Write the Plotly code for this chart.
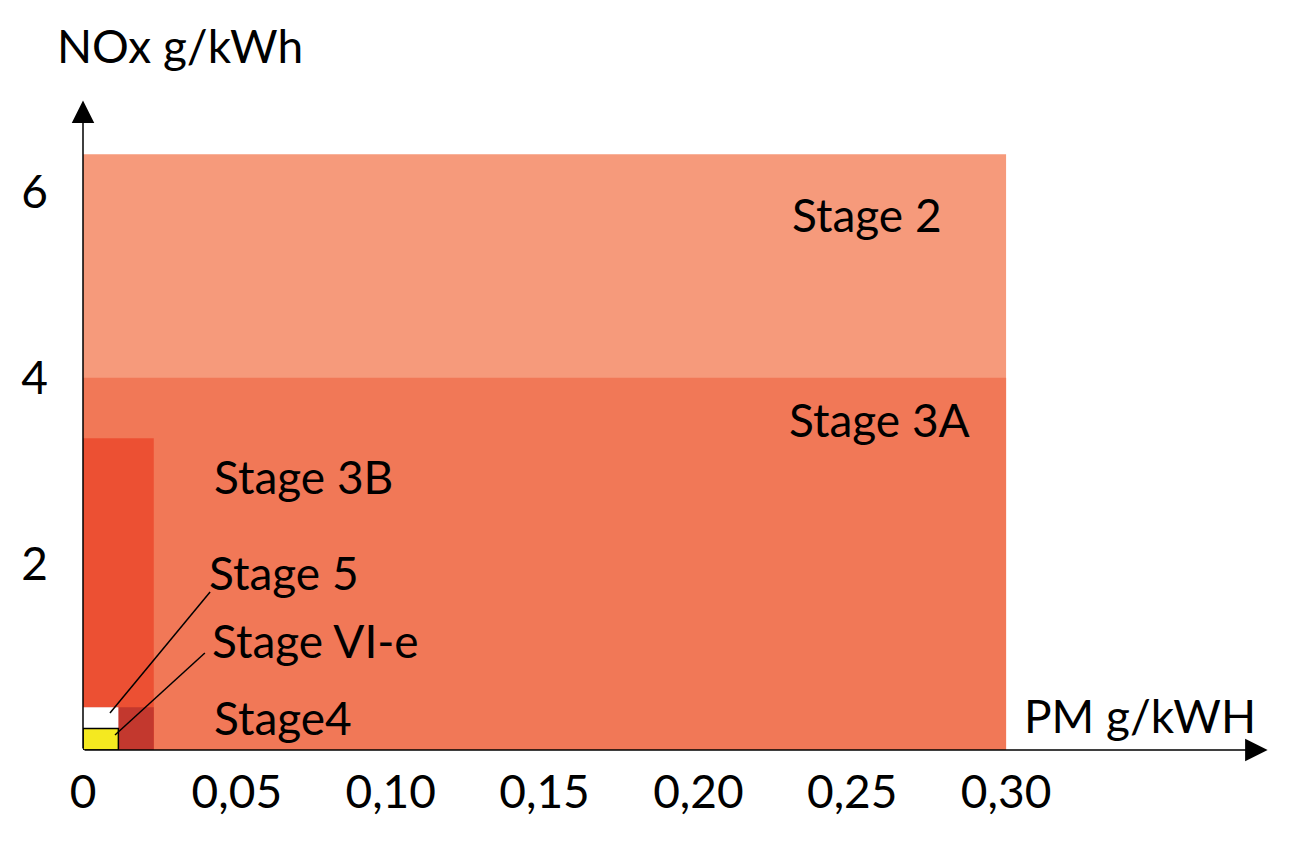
import plotly.graph_objects as go

# ---- data ----
stages = ["Stage 2", "Stage 3A", "Stage 3B", "Stage4", "Stage 5", "Stage VI-e"]
pm_limit = [0.30, 0.30, 0.023, 0.023, 0.0115, 0.0115]    # PM g/kWh
nox_limit = [6.4, 4.0, 3.35, 0.46, 0.46, 0.23]            # NOx g/kWh
fill_colors = ["#F69A7B", "#F17857", "#EC5033", "#C3382E", "#FFFFFF", "#F4E920"]
outline = [None, None, None, None, None, "#000000"]

x_tick_vals = [0, 0.05, 0.10, 0.15, 0.20, 0.25, 0.30]
x_tick_text = ["0", "0,05", "0,10", "0,15", "0,20", "0,25", "0,30"]
y_tick_vals = [2, 4, 6]
y_tick_text = ["2", "4", "6"]

FONT = "Lato"
FS = 46

fig = go.Figure()
for name, pm, nox, col, oc in zip(stages, pm_limit, nox_limit, fill_colors, outline):
    fig.add_trace(go.Scatter(
        x=[0, pm, pm, 0, 0], y=[0, 0, nox, nox, 0],
        mode="lines", fill="toself", fillcolor=col,
        line=dict(color=oc if oc else col, width=1.5 if oc else 0),
        name=name, hoverinfo="skip", showlegend=False))

# stage labels (position in data units)
labels = [
    ("Stage 2", 0.2298, 5.757),
    ("Stage 3A", 0.2288, 3.555),
    ("Stage 3B", 0.0419, 2.943),
    ("Stage 5", 0.0403, 1.912),
    ("Stage VI-e", 0.0413, 1.181),
    ("Stage4", 0.0419, 0.354),
]
for txt, x, y in labels:
    fig.add_annotation(x=x, y=y, text=txt, showarrow=False, xanchor="left", yanchor="middle",
                       font=dict(family=FONT, size=FS, color="black"))

# leader lines
fig.add_shape(type="line", x0=0.0413, y0=1.697, x1=0.00877, y1=0.397,
              line=dict(color="black", width=1.5))
fig.add_shape(type="line", x0=0.0396, y0=1.042, x1=0.0104, y1=0.161,
              line=dict(color="black", width=1.5))

# axes with arrows
fig.add_annotation(x=0, y=6.98, ax=0, ay=0, axref="x", ayref="y", xref="x", yref="y",
                   showarrow=True, arrowhead=2, arrowsize=3.0, arrowwidth=1.5,
                   arrowcolor="black", text="", standoff=0, startstandoff=0)
fig.add_annotation(x=0.385, y=0, ax=0, ay=0, axref="x", ayref="y", xref="x", yref="y",
                   showarrow=True, arrowhead=2, arrowsize=3.0, arrowwidth=1.5,
                   arrowcolor="black", text="", standoff=0, startstandoff=0)

# axis titles
fig.add_annotation(x=-0.0233, y=1.010, xref="paper", yref="paper", text="NOx g/kWh",
                   showarrow=False, xanchor="left", yanchor="middle",
                   font=dict(family=FONT, size=FS, color="black"))
fig.add_annotation(x=0.3052, y=0.376, text="PM g/kWH", showarrow=False, xanchor="left",
                   yanchor="middle", font=dict(family=FONT, size=FS, color="black"))

fig.update_layout(
    width=1296, height=847,
    margin=dict(l=75, r=21, t=44, b=105),
    paper_bgcolor="white", plot_bgcolor="white",
    xaxis=dict(range=[0, 0.39], showgrid=False, zeroline=False, showline=False,
               tickmode="array", tickvals=x_tick_vals, ticktext=x_tick_text,
               ticks="", ticklabelstandoff=11,
               tickfont=dict(family=FONT, size=FS, color="black")),
    yaxis=dict(range=[0, 7.5], showgrid=False, zeroline=False, showline=False,
               tickmode="array", tickvals=y_tick_vals, ticktext=y_tick_text,
               ticks="", ticklabelstandoff=34,
               tickfont=dict(family=FONT, size=FS, color="black")),
)
fig.write_html("out.html")
